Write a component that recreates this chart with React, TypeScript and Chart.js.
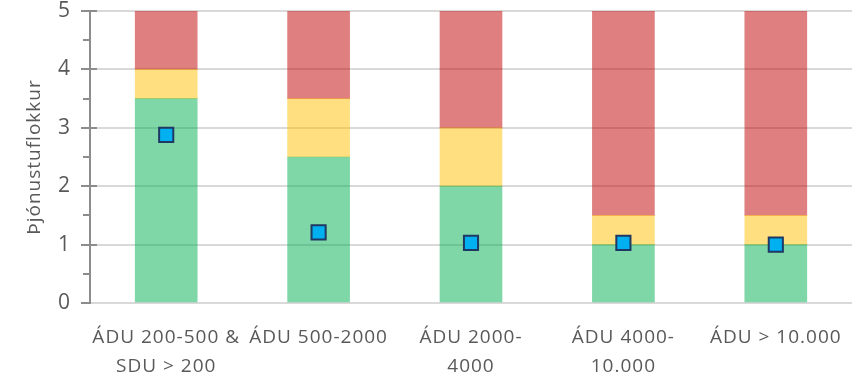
import React, { useEffect, useRef } from "react";
import { Chart, registerables } from "chart.js";

Chart.register(...registerables);

// Þjónustuflokkar eftir stærð fráveitu
const categories: string[][] = [
  ["ÁDU 200-500 &", "SDU > 200"],
  ["ÁDU 500-2000"],
  ["ÁDU 2000-", "4000"],
  ["ÁDU 4000-", "10.000"],
  ["ÁDU > 10.000"],
];

// Stacked band heights (green lower band, yellow middle band, red top band)
const greenBand = [3.5, 2.5, 2.0, 1.0, 1.0];
const yellowBand = [0.5, 1.0, 1.0, 0.5, 0.5];
const redBand = [1.0, 1.5, 2.0, 3.5, 3.5];

// Measured service level per category
const measured = [2.88, 1.21, 1.03, 1.03, 1.0];

const yTicks = [0, 1, 2, 3, 4, 5];
const yMinorStep = 0.5;

const FONT = "'Open Sans', sans-serif";
const TEXT = "#595959";

// Spaced-out lettering and cross-style tick marks on the value axis
const axisDecor = {
  id: "axisDecor",
  beforeUpdate(chart: any) {
    chart.ctx.letterSpacing = "1px";
  },
  beforeDraw(chart: any) {
    chart.ctx.letterSpacing = "1px";
  },
  afterDatasetsDraw(chart: any) {
    const y = chart.scales.y;
    const ctx = chart.ctx;
    const xAxis = y.right;
    ctx.save();
    ctx.strokeStyle = "#8c8c8c";
    ctx.lineWidth = 2;
    const max = yTicks[yTicks.length - 1];
    for (let v = 0; v <= max + 1e-9; v += yMinorStep) {
      const py = Math.round(y.getPixelForValue(v));
      const major = Math.abs(v - Math.round(v)) < 1e-9;
      ctx.beginPath();
      if (major) {
        ctx.moveTo(xAxis - 9, py);
        ctx.lineTo(v === 0 ? xAxis : xAxis + 7, py);
      } else {
        ctx.moveTo(xAxis - 7, py);
        ctx.lineTo(xAxis, py);
      }
      ctx.stroke();
    }
    ctx.restore();
  },
};

export default function App() {
  const canvasRef = useRef<HTMLCanvasElement | null>(null);

  useEffect(() => {
    const canvas = canvasRef.current;
    if (!canvas) return;
    const chart = new Chart(canvas, {
      data: {
        labels: categories,
        datasets: [
          {
            type: "line",
            label: "Mæld þjónusta",
            data: measured,
            showLine: false,
            pointStyle: "rect",
            pointRadius: 10,
            pointHoverRadius: 10,
            pointBackgroundColor: "#00b0f0",
            pointBorderColor: "#1f3864",
            pointBorderWidth: 2,
            stack: "marker",
            order: 0,
          },
          {
            type: "bar",
            label: "Grænt",
            data: greenBand,
            backgroundColor: "rgba(0,176,80,0.5)",
            stack: "bands",
            barThickness: 62,
            order: 1,
          },
          {
            type: "bar",
            label: "Gult",
            data: yellowBand,
            backgroundColor: "rgba(255,192,0,0.5)",
            stack: "bands",
            barThickness: 62,
            order: 1,
          },
          {
            type: "bar",
            label: "Rautt",
            data: redBand,
            backgroundColor: "rgba(192,0,0,0.5)",
            stack: "bands",
            barThickness: 62,
            order: 1,
          },
        ],
      } as any,
      options: {
        responsive: false,
        animation: false,
        devicePixelRatio: 1,
        layout: { autoPadding: false, padding: { left: 0, right: 13, top: 11, bottom: 0 } },
        plugins: {
          legend: { display: false },
          tooltip: { enabled: false },
        },
        scales: {
          x: {
            stacked: true,
            grid: { display: false },
            border: { display: false },
            ticks: {
              maxRotation: 0,
              autoSkip: false,
              color: TEXT,
              padding: 12,
              font: { family: FONT, size: 19, lineHeight: 1.52 },
            },
            afterFit(scale: any) {
              scale.height = 74;
              scale.paddingLeft = 0;
              scale.paddingRight = 0;
            },
          },
          y: {
            stacked: true,
            min: 0,
            max: 5,
            afterBuildTicks(scale: any) {
              scale.ticks = yTicks.map((v) => ({ value: v }));
            },
            grid: {
              color: "#d9d9d9",
              lineWidth: 2,
              drawTicks: false,
            },
            border: { display: true, color: "#8c8c8c", width: 2 },
            ticks: {
              color: TEXT,
              padding: 19,
              font: { family: FONT, size: 21 },
            },
            title: {
              display: true,
              text: "Þjónustuflokkur",
              color: TEXT,
              padding: { top: 23, bottom: 0 },
              font: { family: FONT, size: 19 },
            },
            afterFit(scale: any) {
              scale.width = 90;
              scale.paddingTop = 0;
              scale.paddingBottom = 0;
            },
          },
        },
      },
      plugins: [axisDecor],
    });
    return () => chart.destroy();
  }, []);

  return (
    <div style={{ position: "fixed", left: 0, top: 0, width: 865, height: 377, background: "#ffffff" }}>
      <canvas ref={canvasRef} width={865} height={377} />
    </div>
  );
}
